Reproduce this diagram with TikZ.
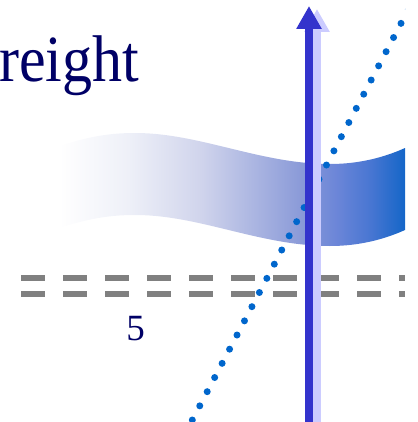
\documentclass[tikz,border=0pt]{standalone}
\usepackage{fontspec}
\setmainfont{Liberation Serif}
\usetikzlibrary{arrows.meta}
\definecolor{navy}{RGB}{0,0,102}
\definecolor{dashgray}{RGB}{128,128,128}
\definecolor{dotblue}{RGB}{0,102,204}
\definecolor{arrowblue}{RGB}{51,51,204}
\definecolor{shadowblue}{RGB}{204,204,255}
\definecolor{rbA}{RGB}{238,240,248}
\definecolor{rbB}{RGB}{208,212,236}
\definecolor{rbC}{RGB}{138,154,216}
\definecolor{rbD}{RGB}{108,134,216}
\definecolor{rbE}{RGB}{72,118,210}
\definecolor{rbF}{RGB}{20,102,200}
\pgfdeclarehorizontalshading{ribbonshade}{100bp}{color(0bp)=(white); color(25bp)=(white); color(35bp)=(rbA); color(45.5bp)=(rbB); color(60bp)=(rbC); color(65bp)=(rbD); color(70bp)=(rbE); color(75bp)=(rbF); color(100bp)=(rbF)}
\begin{document}
\begin{tikzpicture}[x=1pt,y=-1pt,
  titletext/.style={inner sep=0pt, text=navy, font=\fontsize{60}{60}\selectfont},
  numtext/.style={inner sep=0pt, text=navy, font=\fontsize{37}{37}\selectfont},
  dashline/.style={draw=dashgray, line width=6pt, dash pattern=on 24pt off 18pt},
  dotline/.style={draw=dotblue, line width=7pt, line cap=round, dash pattern=on 0pt off 16.007pt},
  mainarrow/.style={draw=arrowblue, line width=8pt, -{Triangle[width=24pt,length=23pt]}},
  shadowarrow/.style={draw=shadowblue, line width=8pt, -{Triangle[width=24pt,length=23pt]}}]
\useasboundingbox (0,0) rectangle (417,422);
\begin{scope}
\clip (0,0) rectangle (405,422);
\node[titletext, anchor=base west] (title) at (-1,82) {\scalebox{1}[1.1]{reight}};
\shade[shading=ribbonshade] (59,146) .. controls (85,138) and (105,133) .. (135,133) .. controls (200,133) and (260,164) .. (330,164) .. controls (360,164) and (385,157) .. (405,148) -- (405,230) .. controls (385,239) and (360,246) .. (330,246) .. controls (260,246) and (200,215) .. (135,215) .. controls (105,215) and (85,220) .. (59,228) -- cycle;
\coordinate (dl1) at (21,278);
\coordinate (dr1) at (405,278);
\coordinate (dl2) at (21,294);
\coordinate (dr2) at (405,294);
\draw[dashline] (dl1) -- (dr1);
\draw[dashline] (dl2) -- (dr2);
\node[numtext, anchor=base] (five) at (135.5,340) {5};
\coordinate (ds) at (184.85,434.17);
\coordinate (de) at (408.5,9.1);
\draw[dotline] (ds) -- (de);
\coordinate (sbot) at (317,433);
\coordinate (stop) at (317,9);
\coordinate (abot) at (309,430);
\coordinate (atop) at (309,6);
\draw[shadowarrow] (sbot) -- (stop);
\draw[mainarrow] (abot) -- (atop);
\end{scope}
\end{tikzpicture}
\end{document}
